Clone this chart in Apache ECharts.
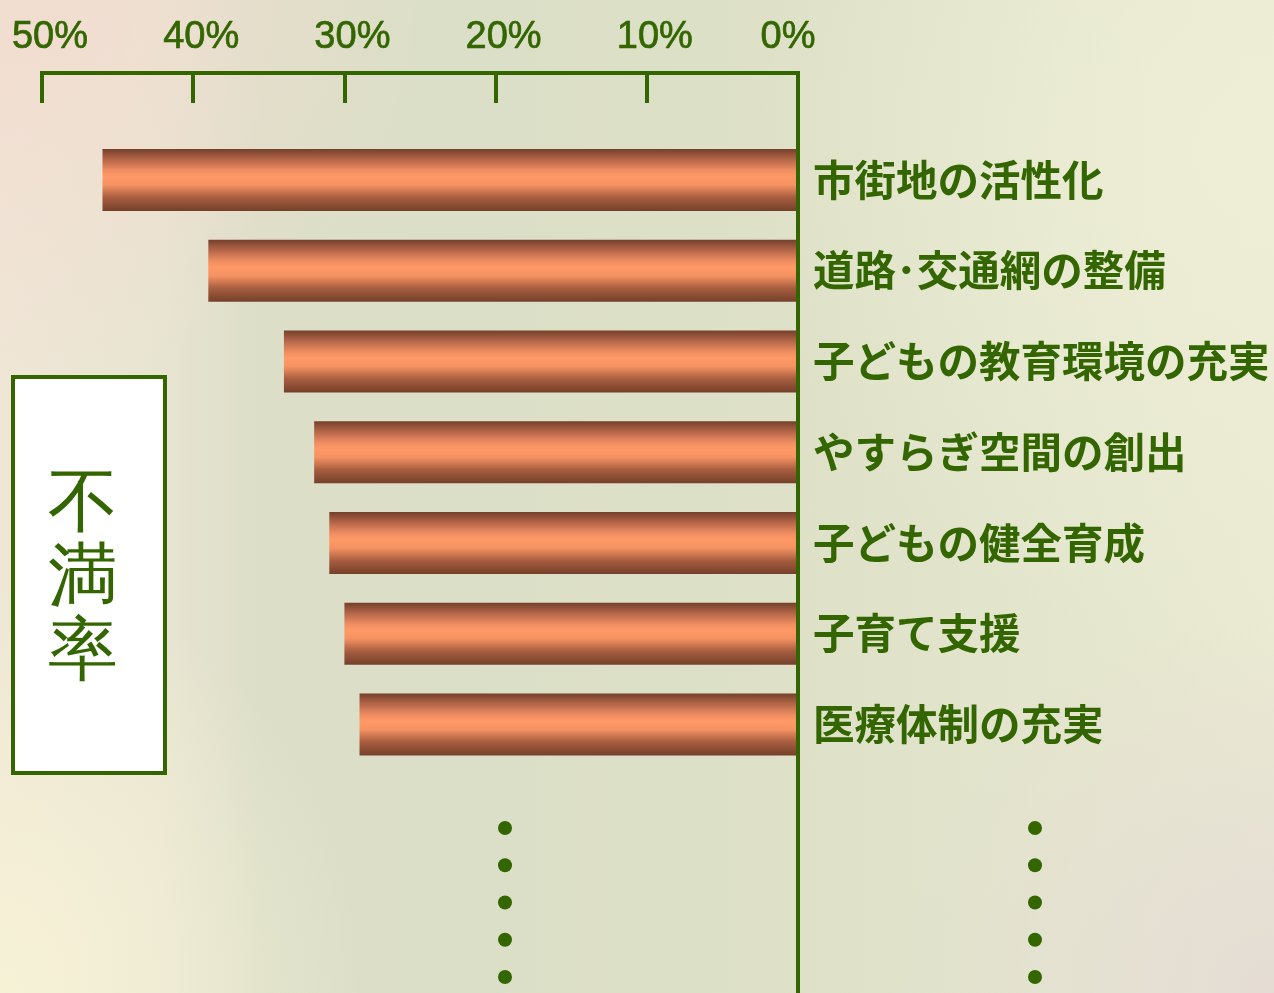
<!DOCTYPE html>
<html>
<head>
<meta charset="utf-8">
<script src="https://cdn.jsdelivr.net/npm/echarts@6/dist/echarts.min.js"></script>
<style>
  html, body { margin: 0; padding: 0; }
  body {
    width: 1274px; height: 993px; overflow: hidden;
    background:
      radial-gradient(ellipse 420px 380px at 0% 0%, rgba(242,220,208,0.95) 0%, rgba(242,220,208,0) 100%),
      radial-gradient(ellipse 360px 420px at 0% 100%, rgba(246,242,214,1) 0%, rgba(246,242,214,0) 100%),
      radial-gradient(ellipse 520px 520px at 100% 15%, rgba(238,238,214,1) 0%, rgba(238,238,214,0) 100%),
      radial-gradient(ellipse 380px 380px at 100% 100%, rgba(228,220,212,1) 0%, rgba(228,220,212,0) 100%),
      linear-gradient(90deg, #EFE6D6 0px, #E8E4D2 160px, #DCDEC8 260px, #DCE0C6 700px, #E0E2CA 900px, #EAEAD2 1274px);
  }
  #chart { width: 1274px; height: 993px; }
</style>
</head>
<body>
<div id="chart"></div>
<script>
// ---- data ----
const categories = [
  '市街地の活性化',
  '道路･交通網の整備',
  '子どもの教育環境の充実',
  'やすらぎ空間の創出',
  '子どもの健全育成',
  '子育て支援',
  '医療体制の充実'
];
const dissatisfaction = [46, 39, 34, 32, 31, 30, 29];
const axisMin = 0;
const axisMax = 50;
const axisStep = 10;
const boxTitle = ['不', '満', '率'];
const dotColumns = ['left', 'right'];
const dotRows = ['1', '2', '3', '4', '5'];

const GREEN = '#336600';
const TICK_FONT = '"Liberation Sans", Arial, sans-serif';

const dotData = [];
dotColumns.forEach((c, ci) => dotRows.forEach((r, ri) => dotData.push([ci, ri])));

const chart = echarts.init(document.getElementById('chart'), null, { renderer: 'canvas' });

const option = {
  backgroundColor: 'transparent',
  animation: false,
  grid: [
    { left: 42, right: 476, top: 73, bottom: 0, containLabel: false, outerBoundsMode: 'none' },
    { left: 42, right: 476, top: 134.6, height: 635.25, containLabel: false, outerBoundsMode: 'none' },
    { left: 505, right: 239, top: 828, bottom: 16, containLabel: false, outerBoundsMode: 'none' }
  ],
  xAxis: [
    {
      gridIndex: 0, type: 'value', inverse: true, position: 'top',
      min: axisMin, max: axisMax, interval: axisStep,
      axisLine: { show: true, lineStyle: { color: GREEN, width: 4, cap: 'square' } },
      axisTick: { show: true, inside: true, length: 30, lineStyle: { color: GREEN, width: 4 } },
      splitLine: { show: false },
      axisLabel: {
        margin: 16,
        formatter: function (v) { return v === 0 ? '{z|' + v + '%}' : '{n|' + v + '%}'; },
        rich: {
          n: { fontSize: 38, fontFamily: TICK_FONT, color: GREEN, textBorderColor: GREEN, textBorderWidth: 0.7, padding: [0, 0, 0, 16] },
          z: { fontSize: 38, fontFamily: TICK_FONT, color: GREEN, textBorderColor: GREEN, textBorderWidth: 0.7, padding: [0, 20, 0, 0] }
        }
      }
    },
    {
      gridIndex: 1, type: 'value', inverse: true, show: false,
      min: axisMin, max: axisMax, interval: axisStep
    },
    {
      gridIndex: 2, type: 'category', data: dotColumns, boundaryGap: false, show: false
    }
  ],
  yAxis: [
    {
      gridIndex: 0, type: 'category', data: [''], position: 'right', z: 5,
      axisLine: { show: true, onZero: false, lineStyle: { color: GREEN, width: 4 } },
      axisTick: { show: false }, axisLabel: { show: false }, splitLine: { show: false }
    },
    {
      gridIndex: 1, type: 'category', data: categories, inverse: true, position: 'right',
      axisLine: { show: false, onZero: false }, axisTick: { show: false }, splitLine: { show: false },
      axisLabel: {
        margin: 15, fontSize: 41.5, fontWeight: 'bold', color: GREEN,
        fontFamily: '"Noto Sans CJK JP", "Noto Sans CJK SC", sans-serif',
        align: 'left', padding: [9, 0, 0, 0]
      }
    },
    {
      gridIndex: 2, type: 'category', data: dotRows, inverse: true, boundaryGap: false, show: false
    }
  ],
  series: [
    {
      type: 'bar', xAxisIndex: 1, yAxisIndex: 1,
      data: dissatisfaction, barWidth: 62,
      itemStyle: {
        color: new echarts.graphic.LinearGradient(0, 0, 0, 1, [
          { offset: 0, color: '#74402A' },
          { offset: 0.18, color: '#B8684A' },
          { offset: 0.35, color: '#F08E62' },
          { offset: 0.45, color: '#FF9966' },
          { offset: 0.58, color: '#F59262' },
          { offset: 0.78, color: '#A85E40' },
          { offset: 1, color: '#74402A' }
        ])
      }
    },
    {
      type: 'scatter', xAxisIndex: 2, yAxisIndex: 2,
      data: dotData, symbol: 'circle', symbolSize: 14,
      itemStyle: { color: GREEN, opacity: 1 }
    }
  ],
  graphic: [
    {
      type: 'rect', left: 11, top: 375,
      shape: { width: 152, height: 396 },
      style: { fill: '#FFFFFF', stroke: GREEN, lineWidth: 4 }
    },
    {
      type: 'text', left: 48, top: 469,
      style: {
        text: boxTitle.join('\n'),
        font: '70px "Noto Sans CJK JP", sans-serif',
        fontSize: 70, lineHeight: 74, fill: GREEN,
        align: 'center'
      }
    }
  ]
};
chart.setOption(option);
</script>
</body>
</html>
